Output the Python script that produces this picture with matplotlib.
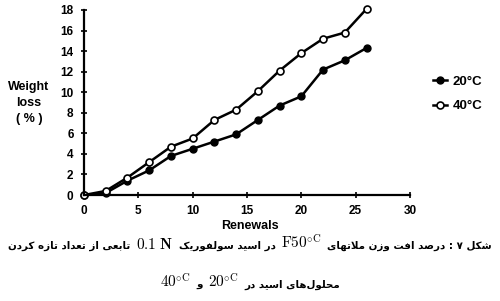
import re
import matplotlib
matplotlib.use("Agg")
import matplotlib.pyplot as plt
from matplotlib.offsetbox import AnchoredOffsetbox, HPacker, TextArea

# data
renewals = [0, 2, 4, 6, 8, 10, 12, 14, 16, 18, 20, 22, 24, 26]
loss_20 = [0.0, 0.2, 1.4, 2.4, 3.8, 4.5, 5.2, 5.9, 7.3, 8.7, 9.6, 12.2, 13.1, 14.3]
loss_40 = [0.0, 0.4, 1.7, 3.2, 4.7, 5.5, 7.3, 8.3, 10.1, 12.1, 13.8, 15.2, 15.8, 18.1]
series_names = ["20°C", "40°C"]
x_ticks = [0, 5, 10, 15, 20, 25, 30]
y_ticks = [0, 2, 4, 6, 8, 10, 12, 14, 16, 18]

caption_1 = r"شکل ۷ : درصد افت وزن ملاتهای $\mathrm{F50}^{\circ\mathrm{C}}$ در اسید سولفوریک $\mathbf{0.1\ N}$ تابعی از تعداد تازه کردن"
caption_2 = r"محلول‌های اسید در $20^{\circ\mathrm{C}}$ و $40^{\circ\mathrm{C}}$"

# Arabic presentation forms: (isolated, final, initial, medial)
DUAL = {
    "ش": "\uFEB5\uFEB6\uFEB7\uFEB8", "ک": "\uFB8E\uFB8F\uFB90\uFB91",
    "ل": "\uFEDD\uFEDE\uFEDF\uFEE0", "ص": "\uFEB9\uFEBA\uFEBB\uFEBC",
    "ف": "\uFED1\uFED2\uFED3\uFED4", "ت": "\uFE95\uFE96\uFE97\uFE98",
    "ن": "\uFEE5\uFEE6\uFEE7\uFEE8", "م": "\uFEE1\uFEE2\uFEE3\uFEE4",
    "ه": "\uFEE9\uFEEA\uFEEB\uFEEC", "ی": "\uFBFC\uFBFD\uFBFE\uFBFF",
    "س": "\uFEB1\uFEB2\uFEB3\uFEB4", "ع": "\uFEC9\uFECA\uFECB\uFECC",
    "ب": "\uFE8F\uFE90\uFE91\uFE92", "ح": "\uFEA1\uFEA2\uFEA3\uFEA4",
}
RIGHT = {
    "د": "\uFEA9\uFEAA", "ر": "\uFEAD\uFEAE", "ا": "\uFE8D\uFE8E",
    "و": "\uFEED\uFEEE", "ز": "\uFEAF\uFEB0",
}


def shape_word(word):
    out = []
    i = 0
    while i < len(word):
        c = word[i]
        prev = word[i - 1] if i > 0 else ""
        nxt = word[i + 1] if i + 1 < len(word) else ""
        join_prev = prev in DUAL
        if c == "ل" and nxt == "ا":
            out.append("\uFEFC" if join_prev else "\uFEFB")
            i += 2
            continue
        if c in DUAL:
            join_next = nxt in DUAL or nxt in RIGHT
            forms = DUAL[c]
            if join_prev and join_next:
                out.append(forms[3])
            elif join_prev:
                out.append(forms[1])
            elif join_next:
                out.append(forms[2])
            else:
                out.append(forms[0])
        elif c in RIGHT:
            out.append(RIGHT[c][1] if join_prev else RIGHT[c][0])
        elif c != "\u200c":
            out.append(c)
        i += 1
    return "".join(reversed(out))


def rtl_pieces(text):
    # split into math / arabic runs, return them in visual (left to right) order
    pieces = []
    for tok in re.findall(r"\$[^$]*\$|\S+", text):
        if tok.startswith("$"):
            pieces.append(["math", tok])
        elif pieces and pieces[-1][0] == "ar":
            pieces[-1][1].append(tok)
        else:
            pieces.append(["ar", [tok]])
    visual = []
    for kind, val in reversed(pieces):
        if kind == "ar":
            val = " ".join(shape_word(w) for w in reversed(val))
        visual.append((kind, val))
    return visual


def caption_box(text, y, ar_size, math_size):
    areas = []
    for kind, val in rtl_pieces(text):
        if kind == "ar":
            props = dict(family="DejaVu Sans", weight="bold", size=ar_size)
        else:
            props = dict(size=math_size)
        areas.append(TextArea(val, textprops=props))
    box = HPacker(children=areas, align="baseline", sep=4, pad=0)
    anchored = AnchoredOffsetbox(loc="center", child=box, frameon=False, pad=0,
                                 borderpad=0, bbox_to_anchor=(0.5, y),
                                 bbox_transform=fig.transFigure)
    fig.add_artist(anchored)


plt.rcParams["mathtext.fontset"] = "cm"

fig = plt.figure(figsize=(5, 3.01), dpi=100)
ax = fig.add_axes([0.168, 0.352, 0.652, 0.615])

ax.plot(renewals, loss_20, color="black", lw=1.8, marker="o", ms=5,
        mfc="black", mec="black", label=series_names[0])
ax.plot(renewals, loss_40, color="black", lw=1.8, marker="o", ms=5,
        mfc="white", mec="black", mew=1.2, label=series_names[1])

ax.set_xlim(0, 30)
ax.set_ylim(0, 18)
ax.set_xticks(x_ticks)
ax.set_yticks(y_ticks)
for s in ["top", "right"]:
    ax.spines[s].set_visible(False)
for s in ["left", "bottom"]:
    ax.spines[s].set_linewidth(1.6)
ax.tick_params(direction="inout", length=5, width=1.2, pad=5)
for lab in ax.get_xticklabels() + ax.get_yticklabels():
    lab.set_fontfamily("Liberation Sans")
    lab.set_fontweight("bold")
    lab.set_fontsize(8.5)
ax.patch.set_visible(False)
for line in ax.lines:
    line.set_clip_on(False)

fig.text(0.058, 0.658, "Weight\nloss\n( % )", ha="center", va="center",
         family="Liberation Sans", weight="bold", fontsize=9, linespacing=1.45)
fig.text(0.5, 0.25, "Renewals", ha="center", va="center",
         family="Liberation Sans", weight="bold", fontsize=9)

ax.legend(loc="upper left", bbox_to_anchor=(1.07, 0.645), frameon=False,
          borderpad=0, borderaxespad=0,
          handlelength=1.05, handletextpad=0.45, labelspacing=0.93,
          prop={"family": "Liberation Sans", "weight": "bold", "size": 9.5})

caption_box(caption_1, 0.193, 7.4, 11)
caption_box(caption_2, 0.065, 7.4, 11)

fig.savefig("out.png", dpi=100)
